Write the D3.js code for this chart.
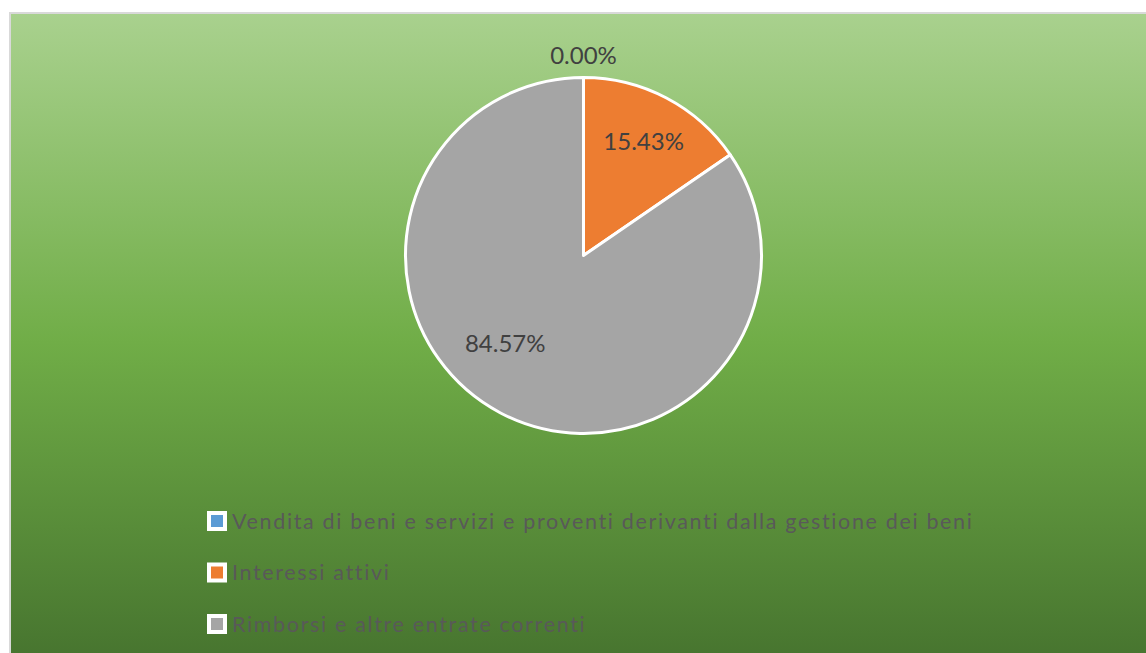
<!DOCTYPE html>
<html><head><meta charset="utf-8">
<script src="https://cdn.jsdelivr.net/npm/d3@7"></script>
<style>html,body{margin:0;padding:0;background:#fff;overflow:hidden}</style>
</head><body>
<svg id="c" width="1146" height="653"></svg>
<script>
const categories = ["Vendita di beni e servizi e proventi derivanti dalla gestione dei beni", "Interessi attivi", "Rimborsi e altre entrate correnti"];
const values = [0.00, 15.43, 84.57];
const labels = ["0.00%", "15.43%", "84.57%"];
const colors = ["#5b9bd5", "#ed7d31", "#a5a5a5"];

const svg = d3.select("#c");
const defs = svg.append("defs");
const grad = defs.append("linearGradient").attr("id","bg").attr("x1",0).attr("y1",0).attr("x2",0).attr("y2",1);
grad.append("stop").attr("offset","0%").attr("stop-color","#a9d18e");
grad.append("stop").attr("offset","50%").attr("stop-color","#70ad47");
grad.append("stop").attr("offset","100%").attr("stop-color","#45722e");

svg.append("rect").attr("x",10).attr("y",13).attr("width",1150).attr("height",660)
  .attr("fill","url(#bg)").attr("stroke","#d9d9d9").attr("stroke-width",2);

const cx = 583.5, cy = 255.5, r = 178;
const g = svg.append("g").attr("transform",`translate(${cx},${cy})`);
const pie = d3.pie().sort(null).value(d => d);
const arcs = pie(values);
const arc = d3.arc().innerRadius(0).outerRadius(r);
g.selectAll("path").data(arcs).enter().append("path")
  .attr("d", arc).attr("fill", (d,i) => colors[i])
  .attr("stroke","#fff").attr("stroke-width",3).attr("stroke-linejoin","round");

const font = "Lato, 'Open Sans', sans-serif";
// labels (Excel best-fit style placement)
function labelPos(d) {
  if (d.endAngle - d.startAngle < 1e-6) return [0, -r - 22];
  const span = d.endAngle - d.startAngle;
  let a = (d.startAngle + d.endAngle) / 2;
  let rr = r * 0.725;
  if (span > Math.PI) { a += 14 * Math.PI / 180; rr = r * 0.66; }
  return [Math.sin(a) * rr, -Math.cos(a) * rr];
}
g.selectAll("text.lbl").data(arcs).enter().append("text")
  .attr("class","lbl")
  .attr("transform",d => { const p = labelPos(d); return `translate(${p[0]},${p[1]})`; })
  .attr("text-anchor","middle").attr("dy","0.35em")
  .attr("font-family",font).attr("font-size",24).attr("fill","#404040")
  .text((d,i) => labels[i]);

// legend
const leg = svg.append("g");
const rowY = d3.scalePoint().domain(categories).range([521, 624]);
const items = leg.selectAll("g").data(categories).enter().append("g")
  .attr("transform", d => `translate(207,${rowY(d)})`);
items.append("rect").attr("x",2).attr("y",-8).attr("width",16).attr("height",16)
  .attr("fill",(d,i)=>colors[i]).attr("stroke","#fff").attr("stroke-width",4);
items.append("text").attr("x",25).attr("y",0).attr("dy","0.35em")
  .attr("font-family",font).attr("font-size",21.5).attr("letter-spacing","1.65px").attr("fill","#595959")
  .text(d => d);
</script>
</body></html>
